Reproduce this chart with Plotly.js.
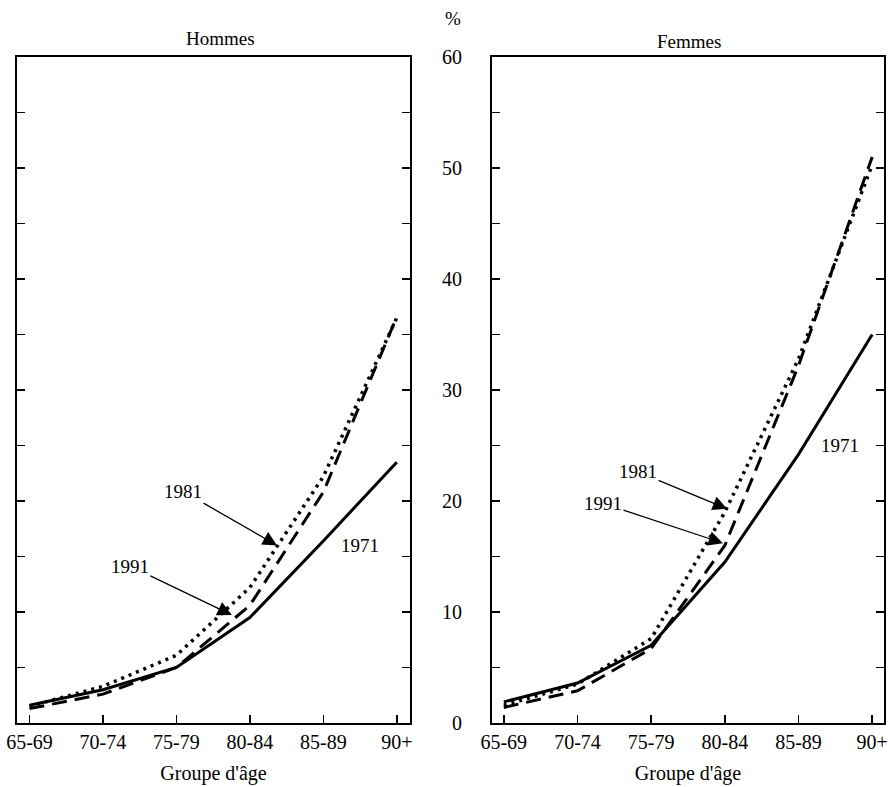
<!DOCTYPE html>
<html>
<head>
<meta charset="utf-8">
<script src="https://cdn.plot.ly/plotly-3.0.1.min.js"></script>
<style>html,body{margin:0;padding:0;background:#fff;}#chart{width:888px;height:787px;}</style>
</head>
<body>
<div id="chart"></div>
<script>
// Categories (age groups)
var ageGroups = ["65-69", "70-74", "75-79", "80-84", "85-89", "90+"];

// Hommes (%)
var hommes1971 = [1.6, 3.0, 5.0, 9.5, 16.4, 23.5];
var hommes1981 = [1.5, 3.3, 6.1, 12.2, 22.2, 36.5];
var hommes1991 = [1.3, 2.6, 5.0, 10.6, 20.8, 36.6];

// Femmes (%)
var femmes1971 = [1.9, 3.6, 7.0, 14.5, 24.2, 35.0];
var femmes1981 = [1.6, 3.5, 7.6, 19.0, 32.8, 50.3];
var femmes1991 = [1.4, 2.9, 6.7, 16.0, 32.2, 51.0];

var panelTitles = ["Hommes", "Femmes"];
var xTitle = "Groupe d'âge";
var yUnit = "%";
var yearLabels = ["1971", "1981", "1991"];

var FONT = "Liberation Serif, Times New Roman, serif";
var lw = 3;
var styles = {
  "1971": {color: "#000", width: lw, dash: "solid"},
  "1981": {color: "#000", width: 3.5, dash: "3px,5px"},
  "1991": {color: "#000", width: lw, dash: "15px,8px"}
};

function tr(y, vals, xa, ya) {
  return {x: ageGroups, y: vals, xaxis: xa, yaxis: ya, type: "scatter", mode: "lines",
          line: styles[y], name: y, showlegend: false, hoverinfo: "skip"};
}

var data = [
  tr("1971", hommes1971, "x", "y"),
  tr("1981", hommes1981, "x", "y"),
  tr("1991", hommes1991, "x", "y"),
  tr("1971", femmes1971, "x2", "y2"),
  tr("1981", femmes1981, "x2", "y2"),
  tr("1991", femmes1991, "x2", "y2")
];

var W = 888, H = 787;
var plotTop = 57, plotBot = 723;
var yDom = [1 - plotBot / H, 1 - plotTop / H];

function xax(dom, rng) {
  return {domain: dom, range: rng, type: "category", showline: true, linewidth: 2, linecolor: "#000",
          mirror: true, ticks: "inside", ticklen: 8, tickwidth: 1.5, tickcolor: "#000",
          showgrid: false, zeroline: false, automargin: false, ticklabelstandoff: 0,
          tickfont: {family: FONT, size: 20, color: "#000"},
          title: {text: xTitle, font: {family: FONT, size: 20, color: "#000"}, standoff: 14}};
}
function yax(anchor, labels) {
  var a = {domain: yDom, range: [0, 60], anchor: anchor, showline: true, linewidth: 2, linecolor: "#000",
           mirror: "ticks", ticks: "inside", ticklen: 8, tickwidth: 1.5, tickcolor: "#000",
           showgrid: false, zeroline: false, automargin: false,
           tickfont: {family: FONT, size: 20, color: "#000"}};
  if (labels) {
    a.dtick = 10; a.tick0 = 0; a.showticklabels = true; a.ticklabelstandoff = 24;
    a.minor = {dtick: 5, ticks: "inside", ticklen: 8, tickwidth: 1.5, tickcolor: "#000", showgrid: false};
  } else {
    a.dtick = 5; a.tick0 = 0; a.showticklabels = false;
  }
  return a;
}

var annFont = {family: FONT, size: 19, color: "#000"};
function arrowAnn(xref, yref, x, y, text, ax, ay) {
  return {xref: xref, yref: yref, x: x, y: y, text: text, showarrow: true, ax: ax, ay: ay,
          arrowhead: 2, arrowsize: 2.2, arrowwidth: 1.3, arrowcolor: "#000", standoff: 0,
          font: annFont};
}
function label(xref, yref, x, y, text) {
  return {xref: xref, yref: yref, x: x, y: y, text: text, showarrow: false, font: annFont,
          xanchor: "center", yanchor: "middle"};
}

var layout = {
  width: W, height: H,
  margin: {l: 0, r: 0, t: 0, b: 0},
  paper_bgcolor: "#fff", plot_bgcolor: "#fff",
  showlegend: false,
  xaxis: xax([17 / W, 410 / W], [-0.17, 5.18]),
  yaxis: yax("x", false),
  xaxis2: xax([492 / W, 884 / W], [-0.16, 5.16]),
  yaxis2: yax("x2", true),
  annotations: [
    label("paper", "paper", 220 / W, 1 - 39 / H, panelTitles[0]),
    label("paper", "paper", 689 / W, 1 - 41 / H, panelTitles[1]),
    label("paper", "paper", 453 / W, 1 - 18 / H, yUnit),
    arrowAnn("x", "y", 3.37, 16.0, yearLabels[1], -94, -54),
    arrowAnn("x", "y", 2.755, 9.73, yearLabels[2], -102, -49),
    label("x", "y", 4.5, 16.0, yearLabels[0]),
    arrowAnn("x2", "y2", 3.03, 19.3, yearLabels[1], -89, -37),
    arrowAnn("x2", "y2", 2.975, 16.2, yearLabels[2], -120, -40),
    label("x2", "y2", 4.565, 25.0, yearLabels[0])
  ]
};

Plotly.newPlot("chart", data, layout, {staticPlot: true, displayModeBar: false});
</script>
</body>
</html>
